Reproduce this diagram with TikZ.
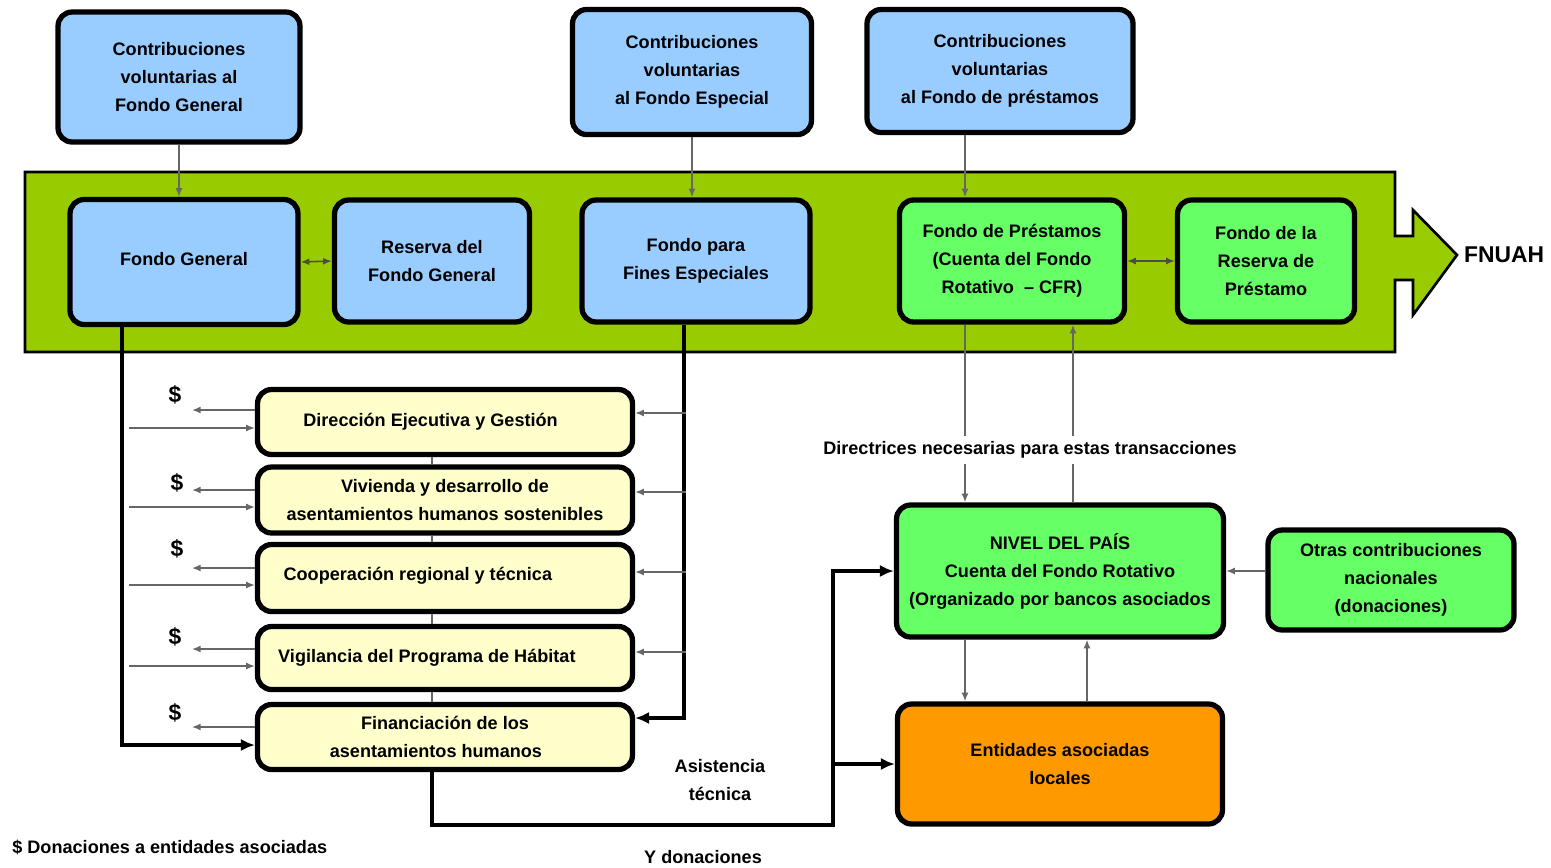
\documentclass[tikz,border=0pt]{standalone}
\usepackage{fontspec}
\setmainfont{Liberation Sans}
\usetikzlibrary{arrows.meta, calc, positioning}

\definecolor{fundblue}{HTML}{99CCFF}
\definecolor{bandgreen}{HTML}{99CC00}
\definecolor{loangreen}{HTML}{66FF66}
\definecolor{progyellow}{HTML}{FFFFCC}
\definecolor{partnerorange}{HTML}{FF9900}
\newcommand\boxfont{\fontsize{10.3}{15.9}\selectfont\bfseries}

\tikzset{
  fund/.style={draw, line width=3pt, rounded corners=8pt, align=center, font=\boxfont, inner sep=2pt},
  bluefund/.style={fund, fill=fundblue},
  loanfund/.style={fund, fill=loangreen},
  progbox/.style={fund, fill=progyellow, minimum width=7.5cm},
  flow/.style={draw=black!60, line width=0.9pt, -{Latex[length=5pt,width=4pt]}},
  twoway/.style={draw=black!70, line width=0.9pt, {Latex[length=5pt,width=4pt]}-{Latex[length=5pt,width=4pt]}},
  feed/.style={line width=2.4pt, -{Latex[length=8pt,width=7pt]}},
  label/.style={font=\boxfont, align=center},
  dollar/.style={font=\fontsize{13}{15}\selectfont\bfseries}
}

\begin{document}
\begin{tikzpicture}[x=0.02cm, y=-0.02cm]
  \useasboundingbox (0,0) rectangle (1551,867);

  % FNUAH band
  \draw[fill=bandgreen, line width=1.5pt] (25,172) -- (1395,172) -- (1395,236) -- (1413,236) -- (1413,210) -- (1457,255)
    -- (1413,315) -- (1413,280) -- (1395,280) -- (1395,352) -- (25,352) -- cycle;
  \node[right, font=\fontsize{13}{15}\selectfont\bfseries] (fnuah) at (1458,255) {FNUAH};

  % contributions
  \node[bluefund, minimum width=4.84cm, minimum height=2.6cm] (cvg) at (179,77) {Contribuciones\\voluntarias al\\Fondo General};
  \node[bluefund, minimum width=4.78cm, minimum height=2.5cm] (cve) at (692,72) {Contribuciones\\voluntarias\\al Fondo Especial};
  \node[bluefund, minimum width=5.32cm, minimum height=2.46cm] (cvp) at (1000,71) {Contribuciones\\voluntarias\\al Fondo de préstamos};

  % funds
  \node[bluefund, minimum width=4.56cm, minimum height=2.5cm] (fg) at (184,262) {\raisebox{4pt}{Fondo General}};
  \node[bluefund, minimum width=3.9cm, minimum height=2.44cm] (rfg) at (432,261) {Reserva del\\Fondo General};
  \node[bluefund, minimum width=4.56cm, minimum height=2.44cm] (ffe) at (696,261) {Fondo para\\Fines Especiales};
  \node[loanfund, minimum width=4.5cm, minimum height=2.44cm] (fp) at (1012,261) {Fondo de Préstamos\\(Cuenta del Fondo\\Rotativo \ -- CFR)};
  \node[loanfund, minimum width=3.54cm, minimum height=2.44cm] (frp) at (1266,261) {Fondo de la\\Reserva de\\Préstamo};

  % programmes
  \node[progbox, minimum height=1.3cm] (y1) at (445,422) {Dirección Ejecutiva y Gestión\hspace*{1.6em}};
  \node[progbox, minimum height=1.32cm] (y2) at (445,500) {Vivienda y desarrollo de\\asentamientos humanos sostenibles};
  \node[progbox, minimum height=1.34cm] (y3) at (445,578) {\raisebox{4.5pt}{Cooperación regional y técnica}\hspace*{3em}};
  \node[progbox, minimum height=1.26cm] (y4) at (445,658) {\raisebox{2.8pt}{Vigilancia del Programa de Hábitat}\hspace*{2em}};
  \node[progbox, minimum height=1.3cm] (y5) at (445,737) {Financiación de los\\asentamientos humanos\hspace*{1em}};

  \node[dollar] (s1) at (175,395) {\$};
  \node[dollar] (s2) at (177,483) {\$};
  \node[dollar] (s3) at (177,549) {\$};
  \node[dollar] (s4) at (175,637) {\$};
  \node[dollar] (s5) at (175,713) {\$};

  % country level
  \node[loanfund, minimum width=6.54cm, minimum height=2.64cm] (niv) at (1060,571) {NIVEL DEL PAÍS\\Cuenta del Fondo Rotativo\\(Organizado por bancos asociados};
  \node[loanfund, minimum width=4.92cm, minimum height=2cm] (otr) at (1391,580) {Otras contribuciones\\nacionales\\(donaciones)};
  \node[fund, fill=partnerorange, minimum width=6.5cm, minimum height=2.4cm] (ent) at (1060,764) {Entidades asociadas\\locales};

  \node[label] (asis) at (720,780) {Asistencia\\técnica};
  \node[label] (ydon) at (703,857) {Y donaciones};
  \node[label, right, inner sep=0pt] (nota) at (12,847) {\$ Donaciones a entidades asociadas};

  \coordinate (d1) at (965,0);
  \coordinate (d2) at (1073,0);
  \coordinate (d3) at (1087,0);
  \coordinate (jn) at (833,825);

  % contributions into funds
  \draw[flow] (cvg.south) -- (cvg.south |- fg.north);
  \draw[flow] (cve.south) -- (cve.south |- ffe.north);
  \draw[flow] (cvp.south -| d1) -- (fp.north -| d1);
  \draw[twoway] (fg.east) -- (rfg.west);
  \draw[twoway] (fp.east) -- (frp.west);

  % trunks to programmes
  \draw[feed] ($(fg.south)+(-62,0)$) |- ($(y5.west)+(0,8)$);
  \draw[feed] ($(ffe.south)+(-12,0)$) |- ($(y5.east)+(0,-19)$);
  \draw[draw=black!60, line width=0.8pt] ($(y1.south)+(-13,0)$) -- ($(y2.north)+(-13,0)$);
  \draw[draw=black!60, line width=0.8pt] ($(y2.south)+(-13,0)$) -- ($(y3.north)+(-13,0)$);
  \draw[draw=black!60, line width=0.8pt] ($(y3.south)+(-13,0)$) -- ($(y4.north)+(-13,0)$);
  \draw[draw=black!60, line width=0.8pt] ($(y4.south)+(-13,0)$) -- ($(y5.north)+(-13,0)$);

  % left side in / out
  \draw[flow] ($(y1.west)+(-126,6)$) -- ($(y1.west)+(0,6)$);
  \draw[flow] ($(y2.west)+(-126,7)$) -- ($(y2.west)+(0,7)$);
  \draw[flow] ($(y3.west)+(-126,7)$) -- ($(y3.west)+(0,7)$);
  \draw[flow] ($(y4.west)+(-126,8)$) -- ($(y4.west)+(0,8)$);
  \draw[flow] ($(y1.west)+(0,-12)$) -- ($(y1.west)+(-63,-12)$);
  \draw[flow] ($(y2.west)+(0,-10)$) -- ($(y2.west)+(-63,-10)$);
  \draw[flow] ($(y3.west)+(0,-10)$) -- ($(y3.west)+(-63,-10)$);
  \draw[flow] ($(y4.west)+(0,-9)$) -- ($(y4.west)+(-63,-9)$);
  \draw[flow] ($(y5.west)+(0,-10)$) -- ($(y5.west)+(-63,-10)$);

  % right side in
  \draw[flow] ($(y1.east)+(51,-9)$) -- ($(y1.east)+(0,-9)$);
  \draw[flow] ($(y2.east)+(51,-8)$) -- ($(y2.east)+(0,-8)$);
  \draw[flow] ($(y3.east)+(51,-6)$) -- ($(y3.east)+(0,-6)$);
  \draw[flow] ($(y4.east)+(51,-6)$) -- ($(y4.east)+(0,-6)$);

  % technical assistance and grants
  \draw[feed, line width=2pt] ($(y5.south)+(-13,0)$) |- (jn) |- (niv.west);
  \draw[feed, line width=2pt] (jn |- ent.west) -- (ent.west);

  % loan fund and country level
  \draw[flow] (fp.south -| d1) -- (niv.north -| d1);
  \draw[flow] (niv.north -| d2) -- (fp.south -| d2);
  \node[label, fill=white, inner sep=3pt] (dir) at (1030,450) {Directrices necesarias para estas transacciones};
  \draw[flow] (niv.south -| d1) -- (ent.north -| d1);
  \draw[flow] (ent.north -| d3) -- (niv.south -| d3);
  \draw[flow] (otr.west |- niv.east) -- (niv.east);
\end{tikzpicture}
\end{document}
